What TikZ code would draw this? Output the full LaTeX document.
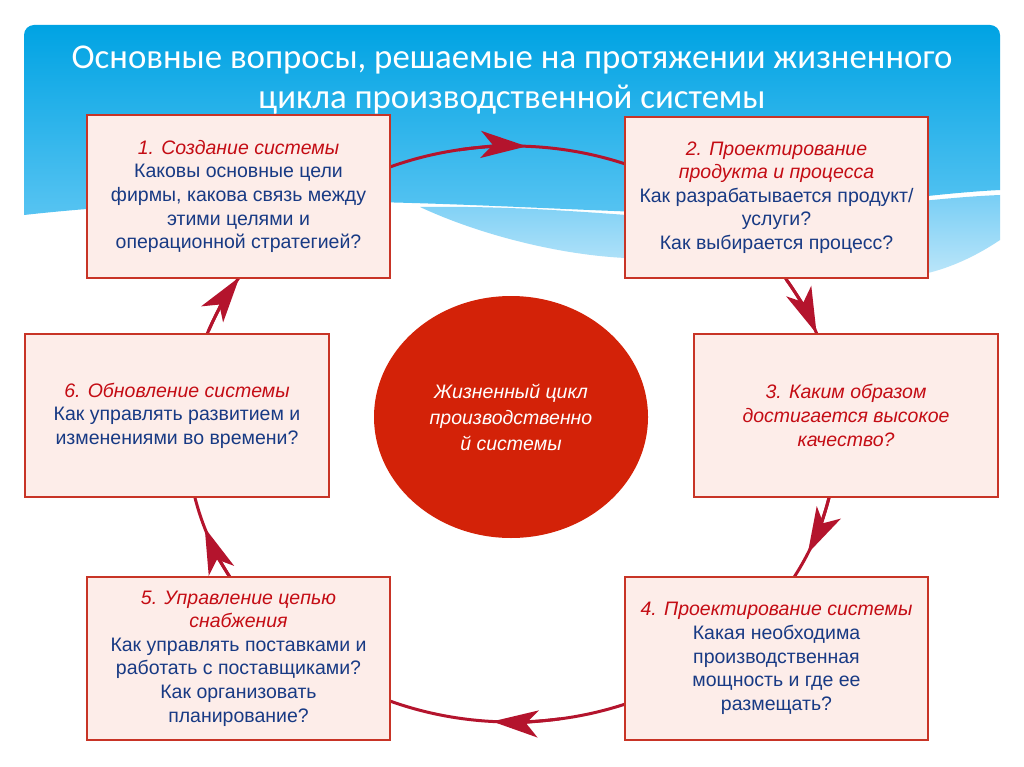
\documentclass[tikz,border=0pt]{standalone}
\usepackage{fontspec}
\setmainfont{Liberation Sans}
\newfontfamily\titlefont{Carlito}
\usetikzlibrary{arrows.meta,shapes.geometric}
\definecolor{skytop}{RGB}{0,163,227}
\definecolor{skybot}{RGB}{88,196,242}
\definecolor{bandtop}{RGB}{120,206,245}
\definecolor{bandbot}{RGB}{200,234,250}
\definecolor{bordc}{RGB}{200,52,38}
\definecolor{boxfill}{RGB}{253,237,233}
\definecolor{hred}{RGB}{196,12,20}
\definecolor{bodyc}{RGB}{24,58,132}
\definecolor{circc}{RGB}{211,34,8}
\definecolor{arcc}{RGB}{180,20,45}
\newcommand\hd[1]{{\color{hred}\itshape #1}}
\tikzset{
  box/.style={draw=bordc, line width=1.8pt, fill=boxfill, minimum width=303pt,
    minimum height=163pt, align=center, text=bodyc, inner sep=0pt,
    font=\fontsize{19.5}{23.6}\selectfont},
  ttl/.style={text=white, anchor=base, inner sep=0pt, font=\titlefont\fontsize{34.8}{40}\selectfont},
  cyc/.style={draw=arcc, line width=3pt},
  arr/.style={draw=arcc, line width=3pt, -{Stealth[length=46pt,width=27pt,inset=12pt]}}
}
\begin{document}
\begin{tikzpicture}[x=1pt,y=-1pt]
\useasboundingbox (0,0) rectangle (1024,767);
\fill[white] (0,0) rectangle (1024,767);
\begin{scope}
  \clip[rounded corners=10pt] (24,25) rectangle (1000,752);
  \shade[top color=skytop, bottom color=skybot]
    (24,25) -- (1000,25) -- (1000,190) .. controls (900,195) and (800,218) .. (640,212)
    .. controls (450,205) and (250,190) .. (24,215) -- cycle;
  \shade[top color=bandtop, bottom color=bandbot]
    (420,207) .. controls (500,206) and (560,210) .. (640,216)
    .. controls (800,222) and (900,199) .. (1000,195) -- (1000,240)
    .. controls (985,250) and (960,265) .. (928,273)
    .. controls (800,290) and (700,265) .. (626,258)
    .. controls (560,255) and (480,235) .. (420,207) -- cycle;
\end{scope}
\node[ttl] (title1) at (512,69) {Основные вопросы, решаемые на протяжении жизненного};
\node[ttl] (title2) at (512,109) {цикла производственной системы};
% cycle
\draw[cyc] (512,434) ellipse[x radius=325, y radius=288];
\foreach \t in {272.6,339.6,24.5,93.5,161,213}{
  \draw[arr] ([shift={(\t-12:325 and 288)}]512,434) arc[start angle=\t-12, end angle=\t, x radius=325, y radius=288];
}
% boxes
\node[box] (b1) at (238.5,196.5) {\hd{1. Создание системы}\\Каковы основные цели\\фирмы, какова связь между\\этими целями и\\операционной стратегией?};
\node[box, minimum height=161pt] (b2) at (776.5,197.5) {\hd{2. Проектирование}\\\hd{продукта и процесса}\\Как разрабатывается продукт/\\услуги?\\Как выбирается процесс?};
\node[box, minimum width=304pt] (b3) at (846,415.5) {\hd{3. Каким образом}\\\hd{достигается высокое}\\\hd{качество?}};
\node[box] (b4) at (776.5,658.5) {\hd{4. Проектирование системы}\\Какая необходима\\производственная\\мощность и где ее\\размещать?};
\node[box] (b5) at (238.5,658.5) {\hd{5. Управление цепью}\\\hd{снабжения}\\Как управлять поставками и\\работать с поставщиками?\\Как организовать\\планирование?};
\node[box, minimum width=304pt] (b6) at (177,415.5) {\hd{6. Обновление системы}\\Как управлять развитием и\\изменениями во времени?};
\node[ellipse, fill=circc, minimum width=274pt, minimum height=242pt, inner sep=0pt,
  text=white, align=center, font=\fontsize{19.5}{26}\selectfont\itshape] (core) at (511,417)
  {Жизненный цикл\\производственно\\й системы};
\end{tikzpicture}
\end{document}
